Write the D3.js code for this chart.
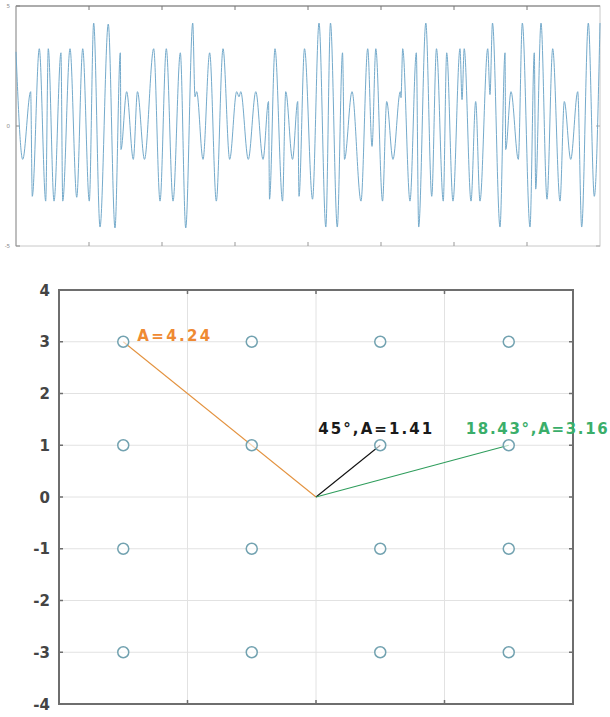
<!DOCTYPE html>
<html><head><meta charset="utf-8">
<script src="https://cdn.jsdelivr.net/npm/d3@7"></script>
<style>
html,body{margin:0;padding:0;background:#fff;}
svg{display:block;font-family:"Noto Sans","DejaVu Sans",sans-serif;}
</style></head>
<body>
<svg id="chart" width="610" height="717"></svg>
<script>
// ---- Top panel: 16-QAM waveform (local extrema) ----
const waveT = [0,0.092,0.201,0.223,0.319,0.407,0.442,0.521,0.616,0.640,0.740,0.832,0.914,1.004,1.064,1.151,1.264,1.356,1.429,1.438,1.516,1.607,1.664,1.760,1.886,1.973,2.059,2.151,2.251,2.325,2.421,2.452,2.475,2.562,2.653,2.744,2.836,2.927,3.023,3.055,3.079,3.182,3.285,3.384,3.459,3.473,3.548,3.651,3.695,3.788,3.859,3.877,3.952,4.062,4.151,4.244,4.308,4.401,4.473,4.500,4.603,4.726,4.818,4.877,4.929,5.021,5.078,5.164,5.264,5.274,5.297,5.397,5.484,5.516,5.614,5.695,5.760,5.853,5.900,5.986,6.082,6.110,6.140,6.233,6.297,6.356,6.462,6.493,6.527,6.630,6.699,6.708,6.781,6.881,6.936,7.041,7.100,7.119,7.192,7.274,7.352,7.452,7.511,7.599,7.695,7.749,7.840,7.922,8.000];
const waveA = [3.09,-1.39,1.43,-2.93,3.22,-3.13,3.22,-3.13,3.05,-3.13,3.22,-2.97,3.22,-3.13,4.29,-4.21,4.25,-4.25,3.05,-0.98,1.43,-1.39,1.43,-1.39,3.22,-3.13,3.22,-3.13,3.05,-4.25,4.29,1.22,1.43,-1.39,3.05,-3.13,3.22,-1.39,1.43,1.22,1.43,-1.39,1.43,-1.39,1.02,-3.05,3.22,-3.13,1.43,-1.39,1.02,-2.93,3.22,-3.05,4.29,-4.21,4.29,-4.21,3.05,-1.39,1.43,-3.13,3.22,-0.85,3.22,-3.13,1.02,-1.39,1.43,1.18,3.22,-3.13,3.05,-4.21,4.29,-2.93,3.22,-3.13,3.05,-3.13,3.22,1.10,3.22,-3.13,1.02,-3.13,3.22,1.31,4.29,-4.21,3.05,-0.98,1.43,-1.39,4.29,-4.21,3.05,-2.63,4.29,-3.05,3.22,-3.13,1.02,-1.39,1.43,-4.21,4.29,-2.93,4.29];
const waveXTicks = [0,1,2,3,4,5,6,7,8];
const waveYTicks = [-5,0,5];

// ---- Bottom panel: 16-QAM constellation ----
const constI = [-3,-1,1,3,-3,-1,1,3,-3,-1,1,3,-3,-1,1,3];
const constQ = [3,3,3,3,1,1,1,1,-1,-1,-1,-1,-3,-3,-3,-3];
const vecNames = ["orange","black","green"];
const vecI = [-3,1,3];
const vecQ = [3,1,1];
const vecLabels = ["A=4.24","45°,A=1.41","18.43°,A=3.16"];
const yTicks = [-4,-3,-2,-1,0,1,2,3,4];
const xGridTicks = [-2,0,2];

const svg = d3.select("#chart");

// ===== top panel =====
const tx = d3.scaleLinear().domain([0,8]).range([16,600]);
const ty = d3.scaleLinear().domain([-5,5]).range([246,6]);
const gTop = svg.append("g");
gTop.append("rect").attr("x",tx(0)).attr("y",ty(5)).attr("width",tx(8)-tx(0)).attr("height",ty(-5)-ty(5))
  .attr("fill","none").attr("stroke","#c8c8c8").attr("stroke-width",1);
gTop.append("line").attr("x1",tx(0)).attr("x2",tx(8)).attr("y1",ty(5)).attr("y2",ty(5)).attr("stroke","#777").attr("stroke-width",1.2);
gTop.append("line").attr("x1",tx(0)).attr("x2",tx(0)).attr("y1",ty(5)).attr("y2",ty(-5)).attr("stroke","#999").attr("stroke-width",1);
waveXTicks.slice(1,-1).forEach(t=>{
  gTop.append("line").attr("x1",tx(t)).attr("x2",tx(t)).attr("y1",ty(5)).attr("y2",ty(5)+4).attr("stroke","#777");
  gTop.append("line").attr("x1",tx(t)).attr("x2",tx(t)).attr("y1",ty(-5)).attr("y2",ty(-5)-4).attr("stroke","#999");
});
waveYTicks.forEach(v=>{
  gTop.append("line").attr("x1",tx(0)).attr("x2",tx(0)+4).attr("y1",ty(v)).attr("y2",ty(v)).attr("stroke","#888");
  gTop.append("line").attr("x1",tx(8)).attr("x2",tx(8)-4).attr("y1",ty(v)).attr("y2",ty(v)).attr("stroke","#aaa");
  gTop.append("text").attr("x",tx(0)-6).attr("y",ty(v)+2).attr("text-anchor","end")
    .attr("font-size",6).attr("fill","#888").text(v);
});
const wave = waveT.map((t,i)=>[t,waveA[i]]);
gTop.append("path").datum(wave)
  .attr("d",d3.line().x(d=>tx(d[0])).y(d=>ty(d[1])).curve(d3.curveMonotoneX))
  .attr("fill","none").attr("stroke","#74aacb").attr("stroke-width",1);

// ===== bottom panel =====
const x = d3.scaleLinear().domain([-4,4]).range([59,573]);
const y = d3.scaleLinear().domain([-4,4]).range([704,290]);
const bot = svg.append("g");
bot.selectAll(".hg").data(yTicks.slice(1,-1)).enter().append("line")
  .attr("x1",x(-4)).attr("x2",x(4)).attr("y1",d=>y(d)).attr("y2",d=>y(d))
  .attr("stroke","#e2e2e2").attr("stroke-width",1);
bot.selectAll(".vg").data(xGridTicks).enter().append("line")
  .attr("x1",d=>x(d)).attr("x2",d=>x(d)).attr("y1",y(-4)).attr("y2",y(4))
  .attr("stroke","#e2e2e2").attr("stroke-width",1);
bot.append("rect").attr("x",x(-4)).attr("y",y(4)).attr("width",x(4)-x(-4)).attr("height",y(-4)-y(4))
  .attr("fill","none").attr("stroke","#6e6e6e").attr("stroke-width",2);
yTicks.forEach(v=>{
  bot.append("line").attr("x1",x(-4)).attr("x2",x(-4)+4).attr("y1",y(v)).attr("y2",y(v)).attr("stroke","#6e6e6e").attr("stroke-width",1.5);
  bot.append("line").attr("x1",x(4)).attr("x2",x(4)-4).attr("y1",y(v)).attr("y2",y(v)).attr("stroke","#6e6e6e").attr("stroke-width",1.5);
});
xGridTicks.forEach(v=>{
  bot.append("line").attr("x1",x(v)).attr("x2",x(v)).attr("y1",y(-4)).attr("y2",y(-4)-4).attr("stroke","#6e6e6e").attr("stroke-width",1.5);
  bot.append("line").attr("x1",x(v)).attr("x2",x(v)).attr("y1",y(4)).attr("y2",y(4)+4).attr("stroke","#6e6e6e").attr("stroke-width",1.5);
});
bot.selectAll(".yl").data(yTicks).enter().append("text")
  .attr("x",x(-4)-9).attr("y",d=>y(d)+5.5).attr("text-anchor","end")
  .attr("font-family","'DejaVu Sans',sans-serif")
  .attr("font-size",15).attr("font-weight",600).attr("fill","#444").text(d=>d);

const vecColor = {orange:"#e3923f", black:"#111111", green:"#2f9d5c"};
const textColor = {orange:"#ef8a33", black:"#1a1a1a", green:"#3aae6a"};
vecNames.forEach((n,i)=>{
  bot.append("line").attr("x1",x(0)).attr("y1",y(0)).attr("x2",x(vecI[i])).attr("y2",y(vecQ[i]))
    .attr("stroke",vecColor[n]).attr("stroke-width",1.1);
});
bot.selectAll(".pt").data(constI.map((v,i)=>[v,constQ[i]])).enter().append("circle")
  .attr("cx",d=>x(d[0])).attr("cy",d=>y(d[1])).attr("r",5.5)
  .attr("fill","#fff").attr("fill-opacity",0.6).attr("stroke","#72a2b0").attr("stroke-width",1.5);

const labelPos = [
  {dx:14, dy:0.13, w:73},
  {dx:-62, dy:0.34, w:114},
  {dx:-43, dy:0.34, w:142}
];
vecNames.forEach((n,i)=>{
  const p = labelPos[i];
  bot.append("text").attr("x",x(vecI[i])+p.dx).attr("y",y(vecQ[i]+p.dy)+6)
    .attr("font-family","'DejaVu Sans',sans-serif")
    .attr("font-size",15).attr("font-weight",700).attr("fill",textColor[n])
    .attr("textLength",p.w).attr("lengthAdjust","spacing")
    .text(vecLabels[i]);
});
</script>
</body></html>
